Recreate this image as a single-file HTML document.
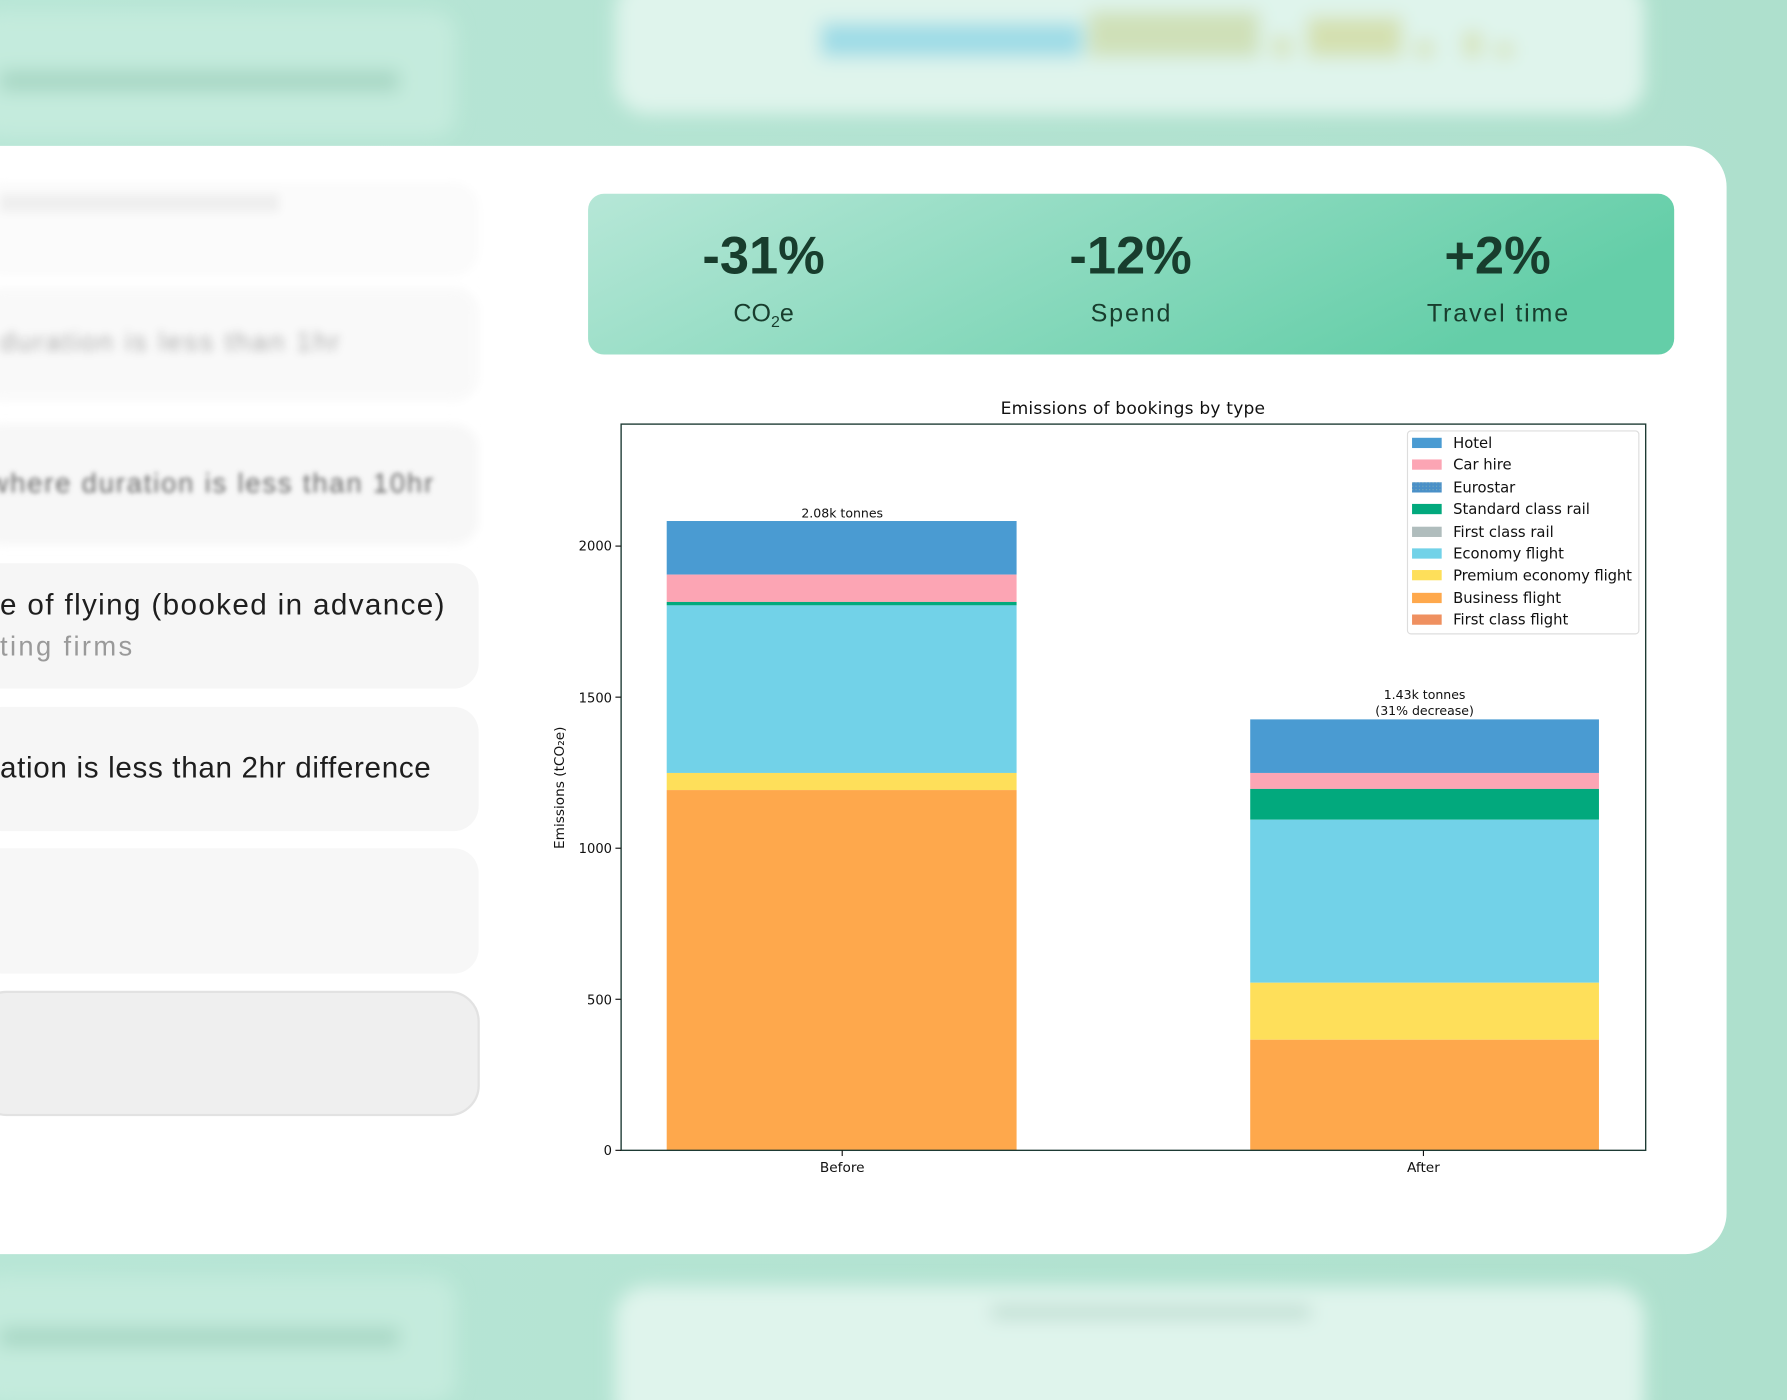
<!DOCTYPE html>
<html><head><meta charset="utf-8"><style>
html,body{margin:0;padding:0;width:1787px;height:1400px;overflow:hidden;background:#b4e4d3}
svg{display:block}
</style></head><body>
<svg width="1787" height="1400" viewBox="0 0 1568 1228" preserveAspectRatio="none" xmlns="http://www.w3.org/2000/svg" font-family="Liberation Sans, DejaVu Sans, sans-serif">
<defs>
<linearGradient id="bg" x1="0" y1="0" x2="1" y2="0"><stop offset="0" stop-color="#b8e6d6"/><stop offset="1" stop-color="#aee0cd"/></linearGradient>
<linearGradient id="ban" x1="0" y1="0" x2="1" y2="0.3"><stop offset="0" stop-color="#b6e7d7"/><stop offset="1" stop-color="#64cea8"/></linearGradient>
<filter id="b8"><feGaussianBlur stdDeviation="8"/></filter>
<filter id="b4"><feGaussianBlur stdDeviation="4"/></filter>
<filter id="b2"><feGaussianBlur stdDeviation="2"/></filter>
<pattern id="dots" width="3" height="3" patternUnits="userSpaceOnUse"><rect width="3" height="3" fill="#4a90c8"/><rect width="1" height="1" fill="#7ab"/></pattern>
</defs>
<rect width="1568" height="1228" fill="url(#bg)"/>
<g filter="url(#b8)">
<rect x="-20" y="10" width="420" height="110" rx="20" fill="#c4ebdd"/>
<rect x="0" y="62" width="350" height="18" fill="#a6d6c3"/>
<rect x="540" y="-20" width="903" height="120" rx="28" fill="#dff4ec"/>
<rect x="720" y="20" width="230" height="30" fill="#9fdce6"/>
<rect x="955" y="10" width="150" height="40" fill="#cfe0b8"/>
<rect x="1147" y="15" width="83" height="35" fill="#d4e0b0"/>
<rect x="1118" y="32" width="14" height="18" fill="#d4e0b0"/>
<rect x="1243" y="36" width="14" height="14" fill="#d4e0b0"/>
<rect x="1285" y="28" width="14" height="22" fill="#d4e0b0"/>
<rect x="1313" y="38" width="14" height="12" fill="#d4e0b0"/>
<rect x="-20" y="1120" width="420" height="110" rx="20" fill="#c4ebdd"/>
<rect x="0" y="1165" width="350" height="16" fill="#a6d6c3"/>
<rect x="540" y="1128" width="903" height="130" rx="28" fill="#dff4ec"/>
<rect x="870" y="1146" width="280" height="10" fill="#b8d8cc"/>
</g>
<rect x="-40" y="128" width="1555" height="972" rx="36" fill="#ffffff"/>
<g filter="url(#b4)">
<rect x="-20" y="160" width="440" height="82" rx="22" fill="#fbfbfb"/>
<rect x="0" y="170" width="245" height="16" fill="#efefef"/>
<rect x="-20" y="252" width="440" height="100" rx="22" fill="#f9f9f9"/>
<text x="0" y="308" font-size="24" fill="#9a9a9a" textLength="298">duration is less than 1hr</text>
<rect x="-20" y="372" width="440" height="106" rx="22" fill="#f7f7f7"/>
</g>
<text x="-10" y="432" font-size="24" fill="#666" filter="url(#b2)" textLength="390">where duration is less than 10hr</text>
<rect x="-20" y="494" width="440" height="110" rx="22" fill="#f6f6f6"/>
<text x="0" y="539" font-size="26" fill="#1e1e1e" textLength="390">e of flying (booked in advance)</text>
<text x="0" y="575" font-size="24" fill="#9a9a9a" textLength="116">ting firms</text>
<rect x="-20" y="620" width="440" height="109" rx="22" fill="#f6f6f6"/>
<text x="0" y="682" font-size="26" fill="#1e1e1e" textLength="378">ation is less than 2hr difference</text>
<rect x="-20" y="744" width="440" height="110" rx="22" fill="#f7f7f7"/>
<rect x="-20" y="870" width="440" height="108" rx="26" fill="#efefef" stroke="#e2e2e2" stroke-width="2"/>
<rect x="516" y="170" width="953" height="141" rx="14" fill="url(#ban)"/>
<g fill="#183d2d" text-anchor="middle">
<text x="670" y="240" font-size="46" font-weight="bold">-31%</text>
<text x="992" y="240" font-size="46" font-weight="bold">-12%</text>
<text x="1314" y="240" font-size="46" font-weight="bold">+2%</text>
<text x="670" y="282" font-size="22">CO<tspan font-size="14" dy="5">2</tspan><tspan dy="-5">e</tspan></text>
<text x="992" y="282" font-size="22" textLength="70">Spend</text>
<text x="1314" y="282" font-size="22" textLength="124">Travel time</text>
</g>
<g font-family="DejaVu Sans, Liberation Sans, sans-serif">
<text x="994" y="363" font-size="15" text-anchor="middle" fill="#111" textLength="232">Emissions of bookings by type</text>
<rect x="585" y="457" width="307" height="47" fill="#4a9bd2"/>
<rect x="585" y="504" width="307" height="24" fill="#fca5b4"/>
<rect x="585" y="528" width="307" height="3" fill="#02a97d"/>
<rect x="585" y="531" width="307" height="147" fill="#72d2e8"/>
<rect x="585" y="678" width="307" height="15" fill="#fedf5a"/>
<rect x="585" y="693" width="307" height="316" fill="#fea84c"/>
<rect x="1097" y="631" width="306" height="47" fill="#4a9bd2"/>
<rect x="1097" y="678" width="306" height="14" fill="#fca5b4"/>
<rect x="1097" y="692" width="306" height="27" fill="#02a97d"/>
<rect x="1097" y="719" width="306" height="143" fill="#72d2e8"/>
<rect x="1097" y="862" width="306" height="50" fill="#fedf5a"/>
<rect x="1097" y="912" width="306" height="97" fill="#fea84c"/>
<rect x="545" y="372" width="899" height="637" fill="none" stroke="#1d3a33" stroke-width="1.2"/>
<g font-size="11.5" fill="#111" text-anchor="end">
<line x1="540" y1="1009" x2="545" y2="1009" stroke="#111"/><text x="537" y="1013">0</text>
<line x1="540" y1="876.5" x2="545" y2="876.5" stroke="#111"/><text x="537" y="881">500</text>
<line x1="540" y1="744" x2="545" y2="744" stroke="#111"/><text x="537" y="748">1000</text>
<line x1="540" y1="611.5" x2="545" y2="611.5" stroke="#111"/><text x="537" y="616">1500</text>
<line x1="540" y1="479" x2="545" y2="479" stroke="#111"/><text x="537" y="483">2000</text>
</g>
<g font-size="12" fill="#111" text-anchor="middle">
<line x1="739" y1="1009" x2="739" y2="1014" stroke="#111"/><text x="739" y="1028">Before</text>
<line x1="1249" y1="1009" x2="1249" y2="1014" stroke="#111"/><text x="1249" y="1028">After</text>
<text x="739" y="454" font-size="11">2.08k tonnes</text>
<text x="1250" y="613" font-size="11">1.43k tonnes</text>
<text x="1250" y="627" font-size="11">(31% decrease)</text>
<text transform="translate(495,691) rotate(-90)" font-size="12">Emissions (tCO₂e)</text>
</g>
<rect x="1235" y="378" width="203" height="178" rx="3" fill="#fff" stroke="#ddd"/>
<g font-size="13" fill="#111">
<rect x="1239" y="384" width="26" height="9" fill="#4a9bd2"/><text x="1275" y="393">Hotel</text>
<rect x="1239" y="403" width="26" height="9" fill="#fca5b4"/><text x="1275" y="412">Car hire</text>
<rect x="1239" y="423" width="26" height="9" fill="url(#dots)"/><text x="1275" y="432">Eurostar</text>
<rect x="1239" y="442" width="26" height="9" fill="#02a97d"/><text x="1275" y="451">Standard class rail</text>
<rect x="1239" y="462" width="26" height="9" fill="#b0bdbd"/><text x="1275" y="471">First class rail</text>
<rect x="1239" y="481" width="26" height="9" fill="#72d2e8"/><text x="1275" y="490">Economy flight</text>
<rect x="1239" y="500" width="26" height="9" fill="#fedf5a"/><text x="1275" y="509" textLength="157">Premium economy flight</text>
<rect x="1239" y="520" width="26" height="9" fill="#fea84c"/><text x="1275" y="529">Business flight</text>
<rect x="1239" y="539" width="26" height="9" fill="#ef9060"/><text x="1275" y="548">First class flight</text>
</g>
</g>
</svg>
</body></html>
